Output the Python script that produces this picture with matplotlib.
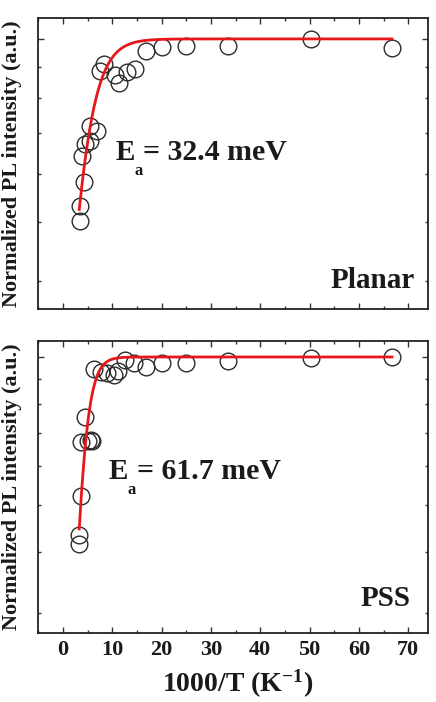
import numpy as np
import matplotlib
matplotlib.use('Agg')
import matplotlib.pyplot as plt
from matplotlib.ticker import FixedLocator, NullFormatter, MultipleLocator

plt.rcParams['font.family'] = ['Liberation Serif', 'DejaVu Serif']
plt.rcParams['font.weight'] = 'bold'
plt.rcParams['mathtext.fontset'] = 'custom'
plt.rcParams['mathtext.rm'] = 'Liberation Serif:bold'
plt.rcParams['mathtext.bf'] = 'Liberation Serif:bold'
plt.rcParams['mathtext.it'] = 'Liberation Serif:bold'

# ---------------- data ----------------
planar_x = [3.51, 3.51, 4.18, 3.85, 4.52, 5.54, 5.40, 6.90, 7.57, 8.24,
            10.6, 11.3, 13.0, 14.7, 16.9, 20.1, 25.0, 33.5, 50.2, 66.8]
planar_y = [0.502, 0.531, 0.582, 0.643, 0.673, 0.679, 0.720, 0.707, 0.887, 0.910,
            0.871, 0.847, 0.881, 0.891, 0.955, 0.971, 0.975, 0.974, 0.999, 0.966]

pss_x = [3.35, 3.35, 3.57, 3.70, 4.52, 5.10, 5.60, 5.90, 6.20, 7.80,
         9.00, 10.3, 11.1, 12.6, 14.3, 16.8, 20.0, 25.0, 33.5, 50.2, 66.8]
pss_y = [0.415, 0.433, 0.520, 0.671, 0.756, 0.674, 0.677, 0.674, 0.943, 0.932,
         0.926, 0.919, 0.936, 0.987, 0.971, 0.952, 0.972, 0.971, 0.981, 0.994, 0.999]

planar_Ea = 32.4   # meV
planar_C = 3.13
pss_Ea = 61.7      # meV
pss_C = 13.2
k_B = 0.08617      # meV/K
fit_range = (3.3, 66.7)

x_ticks_major = [0, 10, 20, 30, 40, 50, 60, 70]
y_major = [1.0]
y_minor = [0.3, 0.4, 0.5, 0.6, 0.7, 0.8, 0.9]


def arrhenius(x, Ea, C):
    x = np.asarray(x)
    return 1.0 / (1.0 + C * np.exp(-Ea * x / (1000.0 * k_B)))


W, H = 436, 702
fig = plt.figure(figsize=(W / 100, H / 100), dpi=100)


def px_axes(left, top, right, bottom):
    return fig.add_axes([left / W, 1 - bottom / H, (right - left) / W, (bottom - top) / H])


ax1 = px_axes(38.3, 18.3, 428, 309.3)
ax2 = px_axes(38.3, 341, 428, 633.3)

xfit = np.linspace(fit_range[0], fit_range[1], 600)
TXT = '#1a1a1a'

panels = [
    (ax1, planar_x, planar_y, planar_Ea, planar_C, (0.36, 1.081), 'Planar',
     (0.197, 0.513), (0.967, 0.073)),
    (ax2, pss_x, pss_y, pss_Ea, pss_C, (0.273, 1.078), 'PSS',
     (0.1796, 0.527), (0.956, 0.093)),
]

for ax, xs, ys, Ea, C, ylim, name, epos, npos in panels:
    ax.set_yscale('log')
    ax.plot(xs, ys, 'o', ms=12, mfc='none', mec='#2b2b2b', mew=1.0, zorder=3)
    ax.plot(xfit, arrhenius(xfit, Ea, C), '-', color='#e8161b', lw=2.0, zorder=4)
    ax.set_xlim(-5, 74)
    ax.set_ylim(*ylim)
    ax.xaxis.set_major_locator(FixedLocator(x_ticks_major))
    ax.xaxis.set_minor_locator(MultipleLocator(5))
    ax.yaxis.set_major_locator(FixedLocator(y_major))
    ax.yaxis.set_minor_locator(FixedLocator(y_minor))
    ax.yaxis.set_major_formatter(NullFormatter())
    ax.yaxis.set_minor_formatter(NullFormatter())
    ax.tick_params(which='both', direction='in', top=True, right=True, color='#333333')
    ax.tick_params(which='major', length=4.5, width=1.0)
    ax.tick_params(which='minor', length=2.5, width=1.0)
    for sp in ax.spines.values():
        sp.set_linewidth(1.3)
        sp.set_color('#222222')
    # E_a label built from pieces: big E, low small subscript a, then the value
    ax.text(epos[0], epos[1], 'E', transform=ax.transAxes, fontsize=21,
            fontweight='bold', ha='left', va='baseline', color=TXT)
    ax.annotate('a', xy=epos, xycoords='axes fraction', xytext=(14.0, -10.5),
                textcoords='offset points', fontsize=12, fontweight='bold',
                ha='left', va='baseline', color=TXT)
    ax.annotate('= %.1f meV' % Ea, xy=epos, xycoords='axes fraction', xytext=(20.4, 0),
                textcoords='offset points', fontsize=21.5, fontweight='bold',
                ha='left', va='baseline', color=TXT)
    ax.text(npos[0], npos[1], name, transform=ax.transAxes, fontsize=21,
            fontweight='bold', ha='right', va='baseline', color=TXT)
    ax.set_ylabel('Normalized PL intensity (a.u.)', fontsize=16, fontweight='bold',
                  color=TXT)
    ax.yaxis.label.set_verticalalignment('center')
    ax.yaxis.set_label_coords(-0.068, 0.5)

ax1.xaxis.set_major_formatter(NullFormatter())
ax2.tick_params(axis='x', which='major', labelsize=16, pad=5, labelcolor=TXT)

fig.text(238 / W, 2 / H, r'1000/T (K$^{-1}$)', fontsize=20, fontweight='bold',
         ha='center', va='bottom', color=TXT)

fig.savefig('out.png', dpi=100)
